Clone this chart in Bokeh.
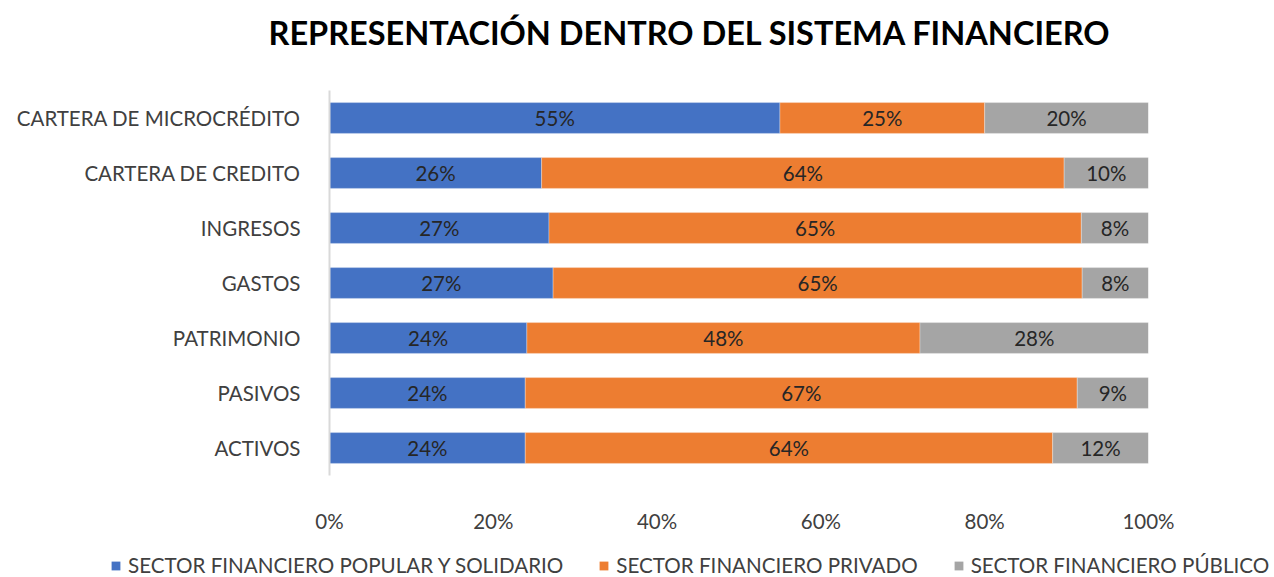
from bokeh.plotting import figure
from bokeh.layouts import column
from bokeh.models import (ColumnDataSource, FactorRange, Range1d, FixedTicker, LabelSet,
                          Legend, LegendItem, Title)
from bokeh.core.properties import value
from bokeh.embed import file_html
from bokeh.resources import INLINE

# ---- data ----
categories = ["CARTERA DE MICROCRÉDITO", "CARTERA DE CREDITO", "INGRESOS", "GASTOS",
              "PATRIMONIO", "PASIVOS", "ACTIVOS"]
popular = [55.0, 25.9, 26.8, 27.3, 24.1, 23.9, 23.9]
privado = [25.0, 63.8, 65.0, 64.6, 48.0, 67.4, 64.4]
publico = [20.0, 10.3, 8.2, 8.1, 27.9, 8.7, 11.7]
series_names = ["SECTOR FINANCIERO POPULAR Y SOLIDARIO", "SECTOR FINANCIERO PRIVADO",
                "SECTOR FINANCIERO PÚBLICO"]
tick_values = [0, 20, 40, 60, 80, 100]
tick_labels = ["0%", "20%", "40%", "60%", "80%", "100%"]
title_text = "REPRESENTACIÓN DENTRO DEL SISTEMA FINANCIERO"

colors = ["#4472C4", "#ED7D31", "#A5A5A5"]
FONT = "Lato"
FS = "20.5px"
stack_keys = ["popular", "privado", "publico"]

source = ColumnDataSource(dict(cat=categories, popular=popular, privado=privado, publico=publico))

SHIFT = 26
p = figure(y_range=FactorRange(*list(reversed(categories))), x_range=Range1d(0, 100),
           width=1274, height=545 + SHIFT, output_backend="svg", toolbar_location=None,
           min_border_left=329, min_border_right=126, min_border_top=90 + SHIFT,
           min_border_bottom=70)
p.margin = (-SHIFT, 0, 0, 0)
p.frame_align = False
p.outline_line_color = None
p.xgrid.grid_line_color = None
p.ygrid.grid_line_color = None
p.background_fill_color = "white"
p.border_fill_color = "white"

rs = p.hbar_stack(stack_keys, y="cat", height=0.56, color=colors,
                  line_color="white", line_width=0.5, line_alpha=0.6, source=source)

# data labels (centered in segments)
lab_x, lab_y, lab_t = [], [], []
for i, c in enumerate(categories):
    start = 0.0
    for vals in (popular, privado, publico):
        v = vals[i]
        lab_x.append(start + v / 2.0)
        lab_y.append(c)
        lab_t.append(f"{round(v)}%")
        start += v
lsrc = ColumnDataSource(dict(x=lab_x, y=lab_y, t=lab_t))
p.add_layout(LabelSet(x="x", y="y", text="t", source=lsrc, text_align="center",
                      text_baseline="middle", text_font=value(FONT), text_font_size=value(FS),
                      text_color="#262626"))

# axes
xa = p.xaxis[0]
xa.ticker = FixedTicker(ticks=tick_values)
xa.major_label_overrides = {v: l for v, l in zip(tick_values, tick_labels)}
xa.axis_line_color = None
xa.major_tick_line_color = None
xa.minor_tick_line_color = None
xa.major_label_standoff = 27
xa.major_label_text_font = FONT
xa.major_label_text_font_size = FS
xa.major_label_text_color = "#404040"

ya = p.yaxis[0]
ya.axis_line_color = "#D9D9D9"
ya.axis_line_width = 2
ya.major_tick_line_color = None
ya.minor_tick_line_color = None
ya.major_label_standoff = 23
ya.major_label_text_font = FONT
ya.major_label_text_font_size = FS
ya.major_label_text_color = "#404040"

# title
p.add_layout(Title(text=title_text, align="left", offset=-61, vertical_align="top",
                   text_font=FONT, text_font_style="bold", text_font_size="32.5px",
                   text_color="black", standoff=74), "above")

# legend strip (separate figure so the legend can span the full width)
lg = figure(width=1274, height=32, output_backend="svg", toolbar_location=None,
            x_range=Range1d(-1001, -1000), y_range=FactorRange(*categories),
            min_border_left=0, min_border_right=0, min_border_top=0, min_border_bottom=0)
lg.frame_align = False
lg.axis.visible = False
lg.grid.visible = False
lg.outline_line_color = None
lg.border_fill_color = "white"
dummies = lg.hbar_stack(stack_keys, y="cat", height=0.56, color=colors, line_color=None,
                        source=source)
legend = Legend(items=[LegendItem(label=n, renderers=[r]) for n, r in zip(series_names, dummies)],
                orientation="horizontal", location=(110, 0), padding=0, margin=0,
                spacing=35, glyph_width=11, glyph_height=11, label_standoff=7,
                label_text_font=FONT, label_text_font_size="20.6px", label_text_color="#404040",
                border_line_color=None, background_fill_alpha=0, label_height=20)
lg.add_layout(legend)

open("out.html", "w").write(file_html(column(p, lg, spacing=0), INLINE))
